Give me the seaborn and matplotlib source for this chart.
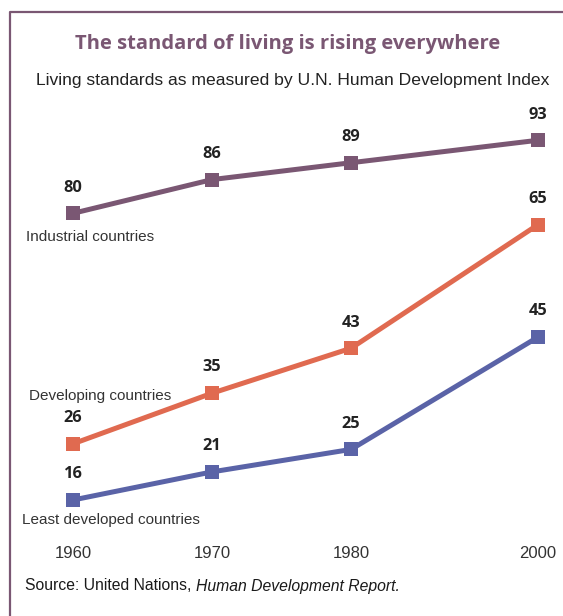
import numpy as np
import pandas as pd
import matplotlib
matplotlib.use("Agg")
import matplotlib.pyplot as plt
from matplotlib.lines import Line2D
import seaborn as sns

# Human Development Index, by group of countries
years = [1960, 1970, 1980, 2000]
industrial = [80, 86, 89, 93]
developing = [26, 35, 43, 65]
least_developed = [16, 21, 25, 45]
group_names = ["Industrial countries", "Developing countries", "Least developed countries"]
year_labels = ["1960", "1970", "1980", "2000"]

title = "The standard of living is rising everywhere"
subtitle = "Living standards as measured by U.N. Human Development Index"

MAUVE = "#7a5773"
ORANGE = "#e06a50"
BLUE = "#5a63a7"
TEXT = "#333333"

sns.set_theme(style="white")
plt.rcParams["font.family"] = ["Liberation Sans", "DejaVu Sans"]

W, H = 563, 616
fig = plt.figure(figsize=(W / 100, H / 100), dpi=100)

def px_box(left, top, right, bottom):
    return [left / W, 1 - bottom / H, (right - left) / W, (bottom - top) / H]

ax = fig.add_axes(px_box(53, 120, 555, 515))
ax_top = ax.twinx()

# the 1980-2000 interval is drawn compressed
SQUEEZE = 0.673
def fwd(x):
    x = np.asarray(x, dtype=float)
    return np.where(x <= 1980, x, 1980 + (x - 1980) * SQUEEZE)
def inv(x):
    x = np.asarray(x, dtype=float)
    return np.where(x <= 1980, x, 1980 + (x - 1980) / SQUEEZE)

ax.set_xscale("function", functions=(fwd, inv))
ax_top.set_xscale("function", functions=(fwd, inv))

low = pd.DataFrame({
    "year": years * 2,
    "value": developing + least_developed,
    "group": [group_names[1]] * 4 + [group_names[2]] * 4,
})
high = pd.DataFrame({"year": years, "value": industrial, "group": group_names[0]})

line_kw = dict(marker="s", markersize=10, linewidth=3.6, markeredgewidth=0)
sns.lineplot(data=low, x="year", y="value", hue="group",
             palette={group_names[1]: ORANGE, group_names[2]: BLUE},
             ax=ax, legend=False, **line_kw)
sns.lineplot(data=high, x="year", y="value", hue="group",
             palette={group_names[0]: MAUVE},
             ax=ax_top, legend=False, **line_kw)

# upper series sits on an offset scale so the gap between groups is narrowed
y0, y1 = 13.33, 83.6
offset = 13.0
ax.set_ylim(y0, y1)
ax_top.set_ylim(y0 + offset, y1 + offset)
x0, x1 = 1958.56, 2001.8
ax.set_xlim(x0, x1)
ax_top.set_xlim(x0, x1)

for a in (ax, ax_top):
    for s in a.spines.values():
        s.set_visible(False)
    a.set_yticks([])
    a.set_ylabel("")
    a.set_xlabel("")
    a.patch.set_visible(False)

ax.set_xticks(years)
ax.set_xticklabels(year_labels)
ax.tick_params(axis="x", length=0, pad=22, labelsize=12, labelcolor=TEXT)
ax.xaxis.set_minor_locator(matplotlib.ticker.NullLocator())
ax_top.xaxis.set_minor_locator(matplotlib.ticker.NullLocator())

# value labels
for a, vals in ((ax_top, industrial), (ax, developing), (ax, least_developed)):
    for x, v in zip(years, vals):
        a.annotate(str(v), (x, v), xytext=(0, 18.5), textcoords="offset points",
                   ha="center", va="center", fontsize=11.8, fontweight="bold",
                   color="#222222", family=["Open Sans", "DejaVu Sans"])

# group names next to the first point of each line
for a, v, name, dx, dy in ((ax_top, industrial[0], group_names[0], -34, -17),
                           (ax, developing[0], group_names[1], -32, 34.5),
                           (ax, least_developed[0], group_names[2], -37, -14.5)):
    a.annotate(name, (years[0], v), xytext=(dx, dy), textcoords="offset points",
               ha="left", va="center", fontsize=11, color=TEXT)

# titles
fig.text(288 / W, 1 - 44 / H, title, ha="center", va="center",
         fontsize=14.5, fontweight="bold", color=MAUVE,
         family=["Open Sans", "DejaVu Sans"])
fig.text(293 / W, 1 - 80 / H, subtitle, ha="center", va="center",
         fontsize=12.6, color="#222222")

# source line
src = fig.text(25 / W, 1 - 586 / H, "Source: United Nations, ", ha="left",
               va="center", fontsize=11.3, color="#1a1a1a")
fig.canvas.draw()
bb = src.get_window_extent()
fig.text(bb.x1 / W, bb.y0 / H, "Human Development Report.", ha="left",
         va="bottom", fontsize=11.3, style="italic", color="#1a1a1a")

# frame on the left and top
fig.add_artist(Line2D([10 / W, 10 / W, 1.0], [0.0, 1 - 12 / H, 1 - 12 / H],
                      transform=fig.transFigure, color=MAUVE, linewidth=1.6))

fig.savefig("out.png", dpi=100)
